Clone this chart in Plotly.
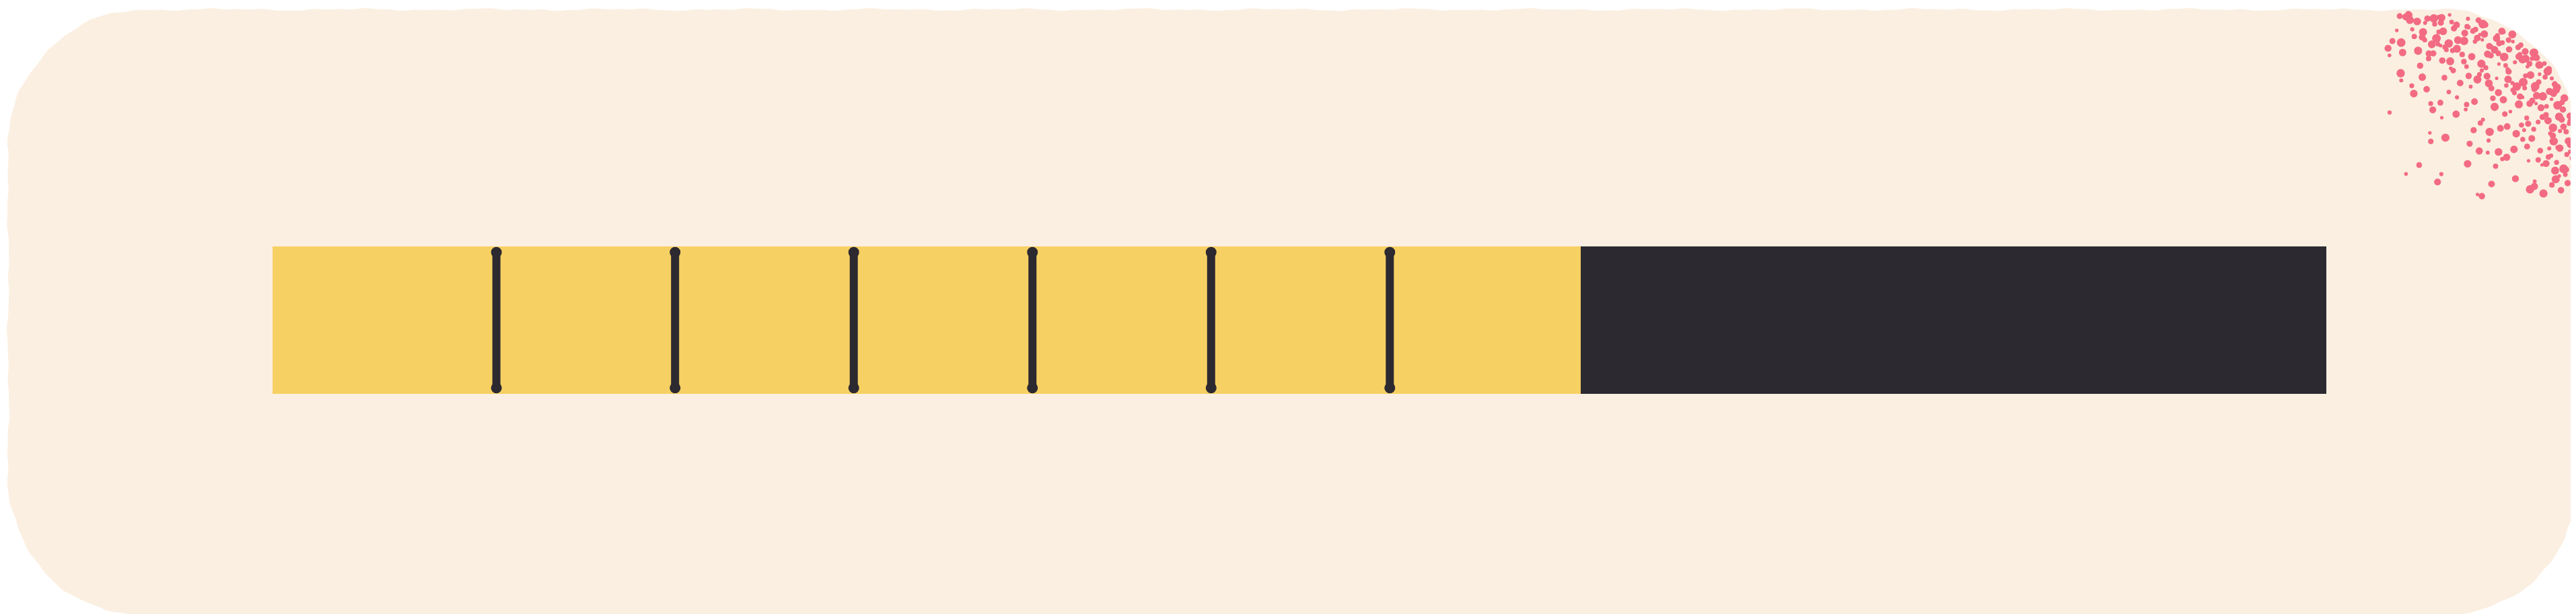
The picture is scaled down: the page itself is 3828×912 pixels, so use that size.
import math
import numpy as np
import plotly.graph_objects as go

# ---------------- data ----------------
segment_names = ["S1", "S2", "S3", "S4", "S5", "S6", "S7", "Remaining"]
segment_values = [10.9, 8.7, 8.7, 8.7, 8.7, 8.7, 9.3, 36.3]
segment_colors = ["#F7D063"] * 7 + ["#2C2A30"]
done_count = 7

# ---------------- styling constants ----------------
W, H = 3828, 912
BG = "#FBEFE1"
DARK = "#2C2A30"
PINK = "#F26B82"

fig = go.Figure()

# stacked horizontal progress bar
for name, val, col in zip(segment_names, segment_values, segment_colors):
    fig.add_trace(go.Bar(
        y=[0], x=[val], name=name, orientation="h", width=1,
        marker=dict(color=col, line=dict(width=0)),
        hoverinfo="name+x", xaxis="x", yaxis="y",
    ))

# dividers between completed segments
bounds = np.cumsum(segment_values[:done_count])[:-1]
dx, dy = [], []
for b in bounds:
    dx += [b, b, None]
    dy += [-0.46, 0.46, None]
fig.add_trace(go.Scatter(
    x=dx, y=dy, mode="lines+markers",
    line=dict(color=DARK, width=12),
    marker=dict(color=DARK, size=16, symbol="circle"),
    hoverinfo="skip", xaxis="x", yaxis="y",
))

# ---------------- decorative background (wobbly rounded rectangle) ----------------
x0, y0, x1, y1, R = 3, 5, 3825, 908, 205

def wob(s):
    return 1.1 * math.sin(s / 31.0) + 0.8 * math.sin(s / 13.0 + 1.3) + 0.5 * math.sin(s / 6.0 + 0.4)

pp = []
def add_arc(cx, cy, a0, a1, n=70):
    for k in range(n):
        a = a0 + (a1 - a0) * k / n
        pp.append(((cx + R * math.cos(a), cy + R * math.sin(a)), (math.cos(a), math.sin(a))))
def add_line(xa, ya, xb, yb, nrm, step=8):
    n = max(2, int(math.hypot(xb - xa, yb - ya) / step))
    for k in range(n):
        t = k / n
        pp.append(((xa + (xb - xa) * t, ya + (yb - ya) * t), nrm))

add_arc(x0 + R, y0 + R, math.pi, 1.5 * math.pi)
add_line(x0 + R, y0, x1 - R, y0, (0, -1))
add_arc(x1 - R, y0 + R, 1.5 * math.pi, 2 * math.pi)
add_line(x1, y0 + R, x1, y1 - R, (1, 0))
add_arc(x1 - R, y1 - R, 0, 0.5 * math.pi)
add_line(x1 - R, y1, x0 + R, y1, (0, 1))
add_arc(x0 + R, y1 - R, 0.5 * math.pi, math.pi)
add_line(x0, y1 - R, x0, y0 + R, (-1, 0))

out = []
s = 0.0
prev = None
for (px, py), (nx, ny) in pp:
    if prev is not None:
        s += math.hypot(px - prev[0], py - prev[1])
    prev = (px, py)
    w = wob(s) - 1.2
    out.append((px + nx * w, py + ny * w))

path = "M " + " L ".join(f"{px / W:.5f},{1 - py / H:.5f}" for px, py in out) + " Z"
shapes = [dict(type="path", path=path, xref="paper", yref="paper",
               fillcolor=BG, line=dict(width=0), layer="below")]

# ---------------- decorative spray in the top-right corner ----------------
def halton(i, b):
    f, res = 1.0, 0.0
    while i > 0:
        f /= b
        res += f * (i % b)
        i //= b
    return res

ccx, ccy = x1 - R, y0 + R
sx, sy, ss = [], [], []
for i in range(1, 1800):
    px = 3532 + halton(i, 2) * 296
    py = halton(i, 3) * 290
    if px > ccx and py < ccy:
        delta = R - math.hypot(px - ccx, py - ccy)
        over = 0.0
    elif px <= ccx and py < ccy:
        delta = py - y0
        over = ccx - px
    elif px > ccx and py >= ccy:
        delta = x1 - px
        over = py - ccy
    else:
        delta = math.hypot(px - ccx, py - ccy) + R
        over = 999
    if delta < 7:
        continue
    p = 0.55 * math.exp(-delta / 65.0) * math.exp(-(over / 70.0) ** 2)
    p += 0.05 * math.exp(-(math.hypot(px - 3700, py - 110) / 170.0) ** 2)
    if halton(i, 5) < p:
        sx.append(px)
        sy.append(py)
        ss.append(5 + halton(i, 7) * 8)

fig.add_trace(go.Scatter(
    x=sx, y=sy, mode="markers",
    marker=dict(color=PINK, size=ss, opacity=1, line=dict(width=0)),
    hoverinfo="skip", xaxis="x2", yaxis="y2",
))

# ---------------- layout ----------------
bar_left, bar_right = 397, 3449
bar_top, bar_bot = 358, 577
fig.update_layout(
    width=W, height=H,
    margin=dict(l=0, r=0, t=0, b=0),
    paper_bgcolor="white", plot_bgcolor="rgba(0,0,0,0)",
    barmode="stack", bargap=0, showlegend=False,
    shapes=shapes,
    xaxis=dict(domain=[bar_left / W, bar_right / W], range=[0, sum(segment_values)],
               visible=False, fixedrange=True),
    yaxis=dict(domain=[1 - bar_bot / H, 1 - bar_top / H], range=[-0.5, 0.5],
               visible=False, fixedrange=True),
    xaxis2=dict(domain=[0, 1], range=[0, W], visible=False, anchor="y2"),
    yaxis2=dict(domain=[0, 1], range=[H, 0], visible=False, anchor="x2"),
)

fig.write_html("out.html")
